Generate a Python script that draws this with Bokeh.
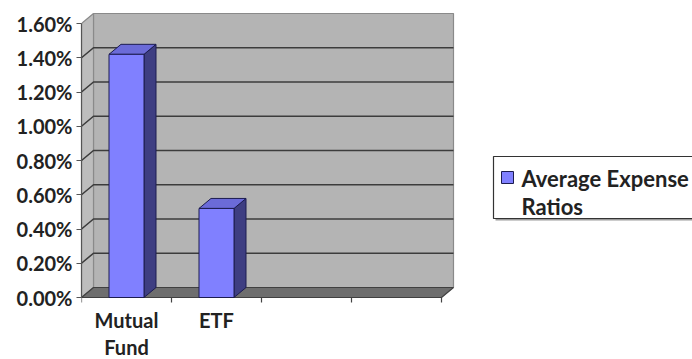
from bokeh.plotting import figure
from bokeh.models import Range1d, FixedTicker, NumeralTickFormatter, ColumnDataSource
from bokeh.embed import file_html
from bokeh.resources import INLINE
from bokeh.core.properties import value

# ---------------- data ----------------
categories = ["Mutual Fund", "ETF", "", ""]
category_labels = ["Mutual\nFund", "ETF", "", ""]
expense_ratios = [0.0142, 0.0052]          # values for the first two categories
series_name = "Average Expense Ratios"
legend_lines = ["Average Expense", "Ratios"]
y_ticks = [0.0, 0.002, 0.004, 0.006, 0.008, 0.010, 0.012, 0.014, 0.016]

# ---------------- layout constants (pixels) ----------------
W, H = 692, 359
LEFT = 81            # frame left (front value axis)
ZERO_PX = 297        # y pixel of value 0 on the front plane
SLOT_PX = 90         # width of one category slot
UNIT_PX = 274 / 0.016  # pixels per unit of value
DEPTH_X, DEPTH_Y = 12, 10
BAR_PX = 35

def X(px):
    return (px - LEFT) / SLOT_PX

def Y(py):
    return (ZERO_PX - py) / UNIT_PX

DX = DEPTH_X / SLOT_PX
DY = DEPTH_Y / UNIT_PX
n = len(categories)
ymax = y_ticks[-1]

p = figure(width=W, height=H,
           x_range=Range1d(0, (W - LEFT) / SLOT_PX),
           y_range=Range1d(Y(H), Y(0)),
           output_backend="svg", toolbar_location=None,
           x_axis_location=None,
           min_border_left=LEFT, min_border_right=0,
           min_border_top=0, min_border_bottom=0)
p.grid.visible = False
p.outline_line_color = None
p.background_fill_color = "white"
p.border_fill_color = "white"

ax = p.yaxis[0]
ax.ticker = FixedTicker(ticks=y_ticks)
ax.formatter = NumeralTickFormatter(format="0.00%")
ax.bounds = (0, ymax)
ax.major_tick_in = 0
ax.major_tick_out = 5
ax.minor_tick_line_color = None
ax.major_label_standoff = 4
ax.major_label_text_font = "Lato"
ax.major_label_text_font_style = "bold"
ax.major_label_text_font_size = "20px"
ax.major_label_text_color = "#222222"
ax.axis_line_color = "#555555"
ax.axis_line_width = 1.2
ax.major_tick_line_color = "#555555"
ax.major_tick_line_width = 1.2

# ---------------- 3D walls ----------------
p.patch([DX, n + DX, n + DX, DX], [DY, DY, ymax + DY, ymax + DY],
        fill_color="#b4b4b4", line_color="#8a8a8a", line_width=1.2)
p.patch([0, DX, DX, 0], [0, DY, ymax + DY, ymax],
        fill_color="#bdbdbd", line_color="#8a8a8a", line_width=1.2)

grid_xs = [[0, DX, n + DX] for t in y_ticks[1:-1]]
grid_ys = [[t, t + DY, t + DY] for t in y_ticks[1:-1]]
p.multi_line(grid_xs, grid_ys, line_color="#3c3c3c", line_width=1.6)

p.patch([0, n, n + DX, DX], [0, 0, DY, DY],
        fill_color="#6e6e6e", line_color="#404040", line_width=1.2)

# category tick marks under the floor
p.segment(x0=list(range(n + 1)), y0=[0] * (n + 1),
          x1=list(range(n + 1)), y1=[-5 / UNIT_PX] * (n + 1),
          line_color="#444444", line_width=1.2)

# ---------------- bars ----------------
hw = BAR_PX / 2 / SLOT_PX
centers = [i + 0.5 for i in range(len(expense_ratios))]
front = ColumnDataSource(dict(left=[c - hw for c in centers],
                              right=[c + hw for c in centers],
                              top=expense_ratios))
top_xs = [[c - hw, c + hw, c + hw + DX, c - hw + DX] for c in centers]
top_ys = [[v, v, v + DY, v + DY] for v in expense_ratios]
side_xs = [[c + hw, c + hw + DX, c + hw + DX, c + hw] for c in centers]
side_ys = [[0, DY, v + DY, v] for v in expense_ratios]

p.patches(side_xs, side_ys, fill_color="#3e3e82", line_color="#1c1c50", line_width=1)
p.patches(top_xs, top_ys, fill_color="#6b6bd8", line_color="#1c1c50", line_width=1)
p.quad(left="left", right="right", bottom=0, top="top", source=front,
       fill_color="#8080ff", line_color="#1c1c50", line_width=1)

# ---------------- category labels ----------------
p.text(x=[i + 0.5 for i in range(n)], y=[-10 / UNIT_PX] * n, text=category_labels,
       text_align="center", text_baseline="top",
       text_font=value("Lato"), text_font_style="bold", text_font_size="20px",
       text_line_height=1.15, text_color="#222222")

# ---------------- legend ----------------
p.quad(left=[X(495)], right=[X(707)], bottom=[Y(220)], top=[Y(158)],
       fill_color="#9a9a9a", line_color=None)
p.quad(left=[X(493)], right=[X(705)], bottom=[Y(218)], top=[Y(156)],
       fill_color="white", line_color="#333333", line_width=1.2)
p.quad(left=[X(501)], right=[X(513)], bottom=[Y(183)], top=[Y(171)],
       fill_color="#8080ff", line_color="#1c1c50", line_width=1)
p.text(x=[X(521), X(521)], y=[Y(178), Y(206)], text=legend_lines,
       text_align="left", text_baseline="alphabetic",
       text_font=value("Lato"), text_font_style="bold", text_font_size="22px",
       text_color="#222222")

open("out.html", "w").write(file_html(p, INLINE))
